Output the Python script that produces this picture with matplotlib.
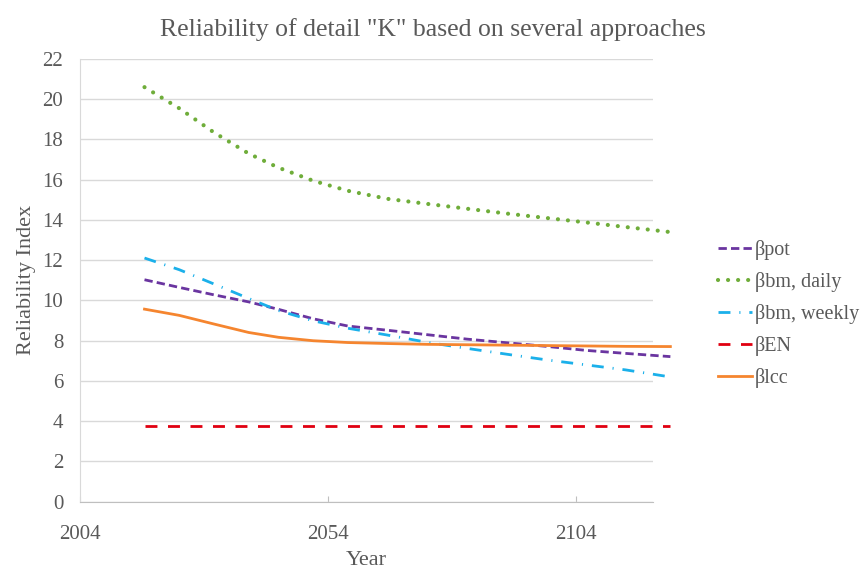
import numpy as np
import matplotlib
matplotlib.use("Agg")
import matplotlib.pyplot as plt

# Data
years = [2017, 2024, 2031, 2038, 2044, 2051, 2058, 2066, 2074, 2082, 2090, 2098, 2106, 2114, 2123]
beta_pot = [11.03, 10.65, 10.28, 9.93, 9.56, 9.09, 8.73, 8.52, 8.30, 8.08, 7.90, 7.72, 7.52, 7.37, 7.21]
beta_bm_daily = [20.6, 19.55, 18.35, 17.3, 16.6, 15.95, 15.45, 15.05, 14.8, 14.56, 14.32, 14.1, 13.88, 13.65, 13.4]
beta_bm_weekly = [12.11, 11.53, 10.82, 10.1, 9.5, 8.99, 8.62, 8.28, 7.92, 7.62, 7.33, 7.05, 6.8, 6.55, 6.2]
beta_en = [3.78] * len(years)
beta_lcc = [9.57, 9.26, 8.83, 8.41, 8.17, 8.0, 7.91, 7.86, 7.82, 7.80, 7.78, 7.76, 7.74, 7.72, 7.71]

series_labels = ["βpot", "βbm, daily", "βbm, weekly", "βEN", "βlcc"]
x_ticks = [2004, 2054, 2104]
y_ticks = list(range(0, 23, 2))

plt.rcParams['font.family'] = ['Liberation Serif', 'DejaVu Serif']
TXT = '#595959'

fig = plt.figure(figsize=(8.64, 5.70), dpi=100)
ax = fig.add_axes([0.0926, 0.1198, 0.6632, 0.7767])

lw = 2.0
ax.plot(years, beta_pot, color='#6A35A0', lw=lw, linestyle=(0, (3.0, 1.5)),
        label=series_labels[0], clip_on=False)
ax.plot(years, beta_bm_daily, color='#6FAD3A', lw=3.0, linestyle=(0, (0.01, 2.4)),
        dash_capstyle='round', label=series_labels[1], clip_on=False)
ax.plot(years, beta_bm_weekly, color='#1BB0EA', lw=lw, linestyle=(0, (4.3, 3.2, 0.4, 3.2)),
        label=series_labels[2], clip_on=False)
ax.plot(years, beta_en, color='#E00010', lw=lw, linestyle=(0, (4.3, 3.8)),
        label=series_labels[3], clip_on=False)
ax.plot(years, beta_lcc, color='#F5852F', lw=lw, linestyle='-',
        label=series_labels[4], clip_on=False)

ax.set_xlim(2004, 2119.5)
ax.set_ylim(0, 22)
ax.set_xticks(x_ticks)
ax.set_yticks(y_ticks)
ax.yaxis.grid(True, color='#d9d9d9', lw=1.0)
ax.set_axisbelow(True)
for side in ['top', 'right']:
    ax.spines[side].set_visible(False)
ax.spines['left'].set_color('#d9d9d9')
ax.spines['bottom'].set_color('#bfbfbf')
ax.tick_params(axis='y', length=0, labelsize=15, labelcolor=TXT, pad=12)
ax.tick_params(axis='x', direction='in', length=4, color='#bfbfbf', labelsize=15,
               labelcolor=TXT, pad=17)

ax.set_xlabel("Year", fontsize=16, color=TXT, labelpad=5)
ax.set_ylabel("Reliability Index", fontsize=16, color=TXT, labelpad=5)
fig.text(0.501, 0.949, 'Reliability of detail "K" based on several approaches',
         ha='center', va='center', fontsize=18.5, color=TXT)

leg = ax.legend(loc='upper left', bbox_to_anchor=(0.822, 0.593), bbox_transform=fig.transFigure,
                frameon=False, fontsize=14.5, handlelength=1.7, handletextpad=0.1,
                labelspacing=0.6, borderaxespad=0)
for t in leg.get_texts():
    t.set_color(TXT)

fig.savefig("out.png", dpi=100)
